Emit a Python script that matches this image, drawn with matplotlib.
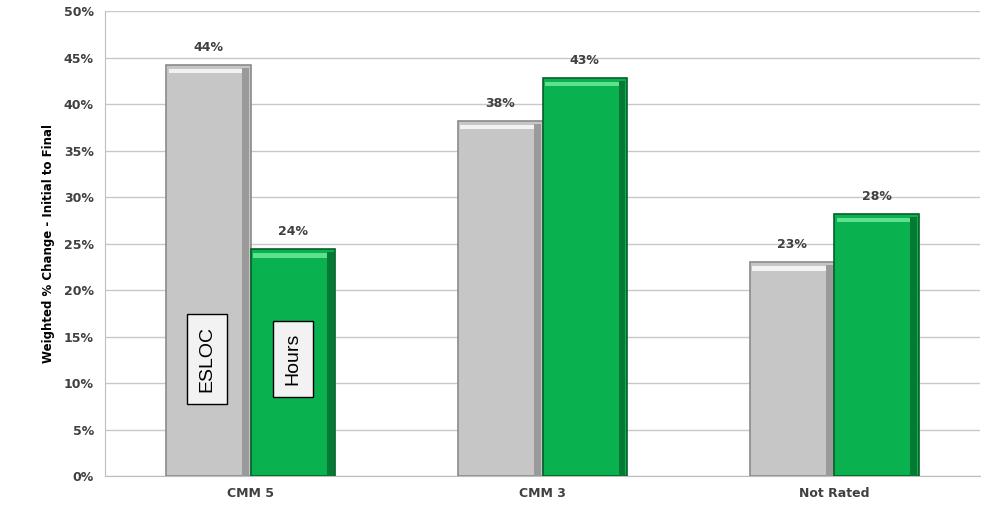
import numpy as np
import matplotlib.pyplot as plt
from matplotlib.ticker import FuncFormatter

# chart data
categories = ["CMM 5", "CMM 3", "Not Rated"]
esloc = [44.2, 38.2, 23.0]
hours = [24.4, 42.8, 28.2]
esloc_labels = ["44%", "38%", "23%"]
hours_labels = ["24%", "43%", "28%"]

GREY = "#c6c6c6"
GREEN = "#0ab24f"


def draw_bars(ax, x, vals, face, edge, light, shade, width):
    bars = ax.bar(x, vals, width, color=face, edgecolor=edge, linewidth=1.2, zorder=3)
    # simple bevel: light top strip and darker right strip
    for b in bars:
        bx, bw, bh = b.get_x(), b.get_width(), b.get_height()
        ax.bar(bx + bw * 0.03, 0.5, bw * 0.94, bottom=bh - 0.9, align="edge",
               color=light, linewidth=0, zorder=4)
        ax.bar(bx + bw * 0.9, bh - 0.3, bw * 0.08, align="edge",
               color=shade, linewidth=0, zorder=4)
    return bars


def main():
    fig = plt.figure(figsize=(9.9, 5.12), dpi=100)
    ax = fig.add_axes([0.106, 0.0703, 0.884, 0.908])

    x = np.arange(len(categories))
    w = 0.29
    draw_bars(ax, x - w / 2, esloc, GREY, "#8a8a8a", "#f2f2f2", "#9a9a9a", w)
    draw_bars(ax, x + w / 2, hours, GREEN, "#04602a", "#5fe08f", "#067a35", w)

    for i in range(len(categories)):
        ax.text(x[i] - w / 2, esloc[i] + 1.2, esloc_labels[i], ha="center", va="bottom",
                fontsize=9, fontweight="bold", color="#404040")
        ax.text(x[i] + w / 2, hours[i] + 1.2, hours_labels[i], ha="center", va="bottom",
                fontsize=9, fontweight="bold", color="#404040")

    # boxes naming the series
    box = dict(boxstyle="square,pad=0.6", facecolor="#f2f2f2", edgecolor="black", linewidth=1)
    ax.text(-0.15, 12.6, "ESLOC", rotation=90, ha="center", va="center",
            fontsize=14, bbox=box, zorder=6, family="Liberation Sans")
    ax.text(0.145, 12.6, "Hours", rotation=90, ha="center", va="center",
            fontsize=14, bbox=box, zorder=6, family="Liberation Sans")

    ax.set_xlim(-0.5, 2.5)
    ax.set_ylim(0, 50)
    ax.set_yticks(np.arange(0, 51, 5))
    ax.yaxis.set_major_formatter(FuncFormatter(lambda v, p: f"{v:.0f}%"))
    ax.set_xticks(x)
    ax.set_xticklabels(categories)
    ax.tick_params(axis="both", length=0, labelsize=9, labelcolor="#404040", pad=8)
    for lbl in ax.get_xticklabels() + ax.get_yticklabels():
        lbl.set_fontweight("bold")

    ax.set_ylabel("Weighted % Change - Initial to Final", fontsize=8.5,
                  fontweight="bold", family="Liberation Sans Narrow", labelpad=6)

    ax.grid(axis="y", color="#c8c8c8", linewidth=1, zorder=0)
    for s in ["top", "right"]:
        ax.spines[s].set_visible(False)
    ax.spines["left"].set_color("#bdbdbd")
    ax.spines["bottom"].set_color("#bdbdbd")

    fig.savefig("out.png", dpi=100)


if __name__ == "__main__":
    main()
